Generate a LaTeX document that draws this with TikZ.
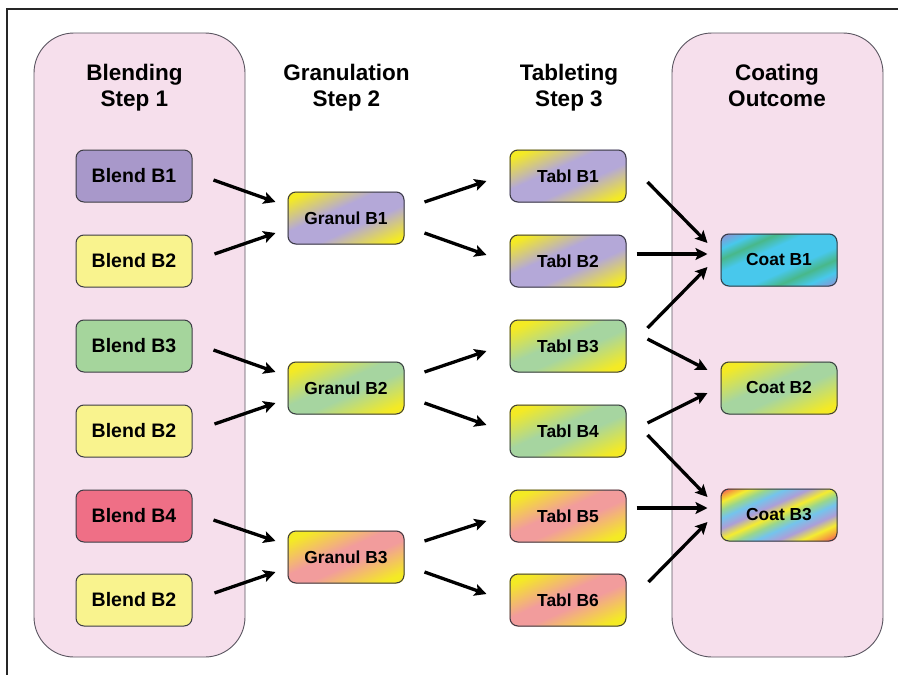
\documentclass[tikz,border=0pt]{standalone}
\usepackage{fontspec}
\setmainfont{Liberation Sans}
\usetikzlibrary{arrows.meta,calc}

% plain fills
\definecolor{panelpink}{HTML}{F6DFEC}
\definecolor{panelline}{HTML}{5A5560}
\definecolor{boxline}{HTML}{3C3C44}
\definecolor{blpurple}{HTML}{A898CA}
\definecolor{blyellow}{HTML}{F9F38E}
\definecolor{blgreen}{HTML}{A5D59C}
\definecolor{blred}{HTML}{EF6F86}
% gradient colours
\definecolor{gyel}{HTML}{F4EA24}
\definecolor{glav}{HTML}{B4A8D8}
\definecolor{ggrn}{HTML}{A6D5A0}
\definecolor{gsal}{HTML}{F29C9C}
\definecolor{cslate}{HTML}{8A94D4}
\definecolor{ccyan}{HTML}{48C8EC}
\definecolor{cgreen}{HTML}{48B88A}
\definecolor{rred}{HTML}{EA3F6E}
\definecolor{rora}{HTML}{F5A03E}
\definecolor{ryel}{HTML}{F5EC30}
\definecolor{rgrn}{HTML}{9AD68C}
\definecolor{rblu}{HTML}{74C4EC}
\definecolor{rlav}{HTML}{AC9FD8}

% blends along the box diagonal: 25bp is the upper left corner, 75bp the lower right one
\pgfdeclarehorizontalshading{yellav}{100bp}{color(0bp)=(gyel); color(29bp)=(gyel); color(44bp)=(glav); color(56bp)=(glav); color(71bp)=(gyel); color(100bp)=(gyel)}
\pgfdeclarehorizontalshading{yelgrn}{100bp}{color(0bp)=(gyel); color(30bp)=(gyel); color(46bp)=(ggrn); color(54bp)=(ggrn); color(70bp)=(gyel); color(100bp)=(gyel)}
\pgfdeclarehorizontalshading{yelsal}{100bp}{color(0bp)=(gyel); color(30bp)=(gyel); color(46bp)=(gsal); color(54bp)=(gsal); color(70bp)=(gyel); color(100bp)=(gyel)}
\pgfdeclarehorizontalshading{coatone}{100bp}{color(0bp)=(cslate); color(26bp)=(cslate); color(32bp)=(ccyan); color(37bp)=(cgreen); color(43bp)=(ccyan); color(56bp)=(ccyan); color(62bp)=(cgreen); color(68bp)=(ccyan); color(74bp)=(cslate); color(100bp)=(cslate)}
\pgfdeclarehorizontalshading{coatthree}{100bp}{color(0bp)=(rred); color(25bp)=(rred); color(28bp)=(rora); color(31bp)=(ryel); color(35bp)=(rgrn); color(39bp)=(rblu); color(44bp)=(rlav); color(49bp)=(ryel); color(53bp)=(rgrn); color(57bp)=(rblu); color(62bp)=(rlav); color(67bp)=(ryel); color(71bp)=(rora); color(75bp)=(rred); color(100bp)=(rred)}

\pgfdeclarelayer{panels}
\pgfdeclarelayer{fills}
\pgfsetlayers{panels,fills,main}

\tikzset{
  panel/.style={draw=panelline, line width=0.9pt, fill=panelpink, rounded corners=40pt},
  hdr/.style={anchor=base, inner sep=0pt, font=\fontsize{22.5}{25}\selectfont\bfseries},
  box/.style={draw=boxline, line width=1pt, rounded corners=8pt, minimum width=116pt, minimum height=52pt, inner sep=0pt},
  blendbox/.style={box, font=\fontsize{19.5}{22}\selectfont\bfseries},
  smallbox/.style={box, font=\fontsize{17.4}{20}\selectfont\bfseries},
  flow/.style={line width=3.3pt, -{Stealth[length=12pt, width=12pt, inset=2.5pt]}},
}

\begin{document}
\begin{tikzpicture}[x=1pt, y=-1pt]
\path[use as bounding box] (0,0) rectangle (898,675);

% frame lines
\draw[line width=1.6pt, color=black!85] (7,675) -- (7,9) -- (898,9);

% side panels
\begin{pgfonlayer}{panels}
\draw[panel] (34,33) rectangle (245,657);
\draw[panel] (672,33) rectangle (883,657);
\end{pgfonlayer}

% column headings
\node[hdr] (h1a) at (134.5,80) {Blending};
\node[hdr] (h1b) at (134.5,106) {Step 1};
\node[hdr] (h2a) at (346.5,80) {Granulation};
\node[hdr] (h2b) at (346.5,106) {Step 2};
\node[hdr] (h3a) at (569,80) {Tableting};
\node[hdr] (h3b) at (569,106) {Step 3};
\node[hdr] (h4a) at (777,80) {Coating};
\node[hdr] (h4b) at (777,106) {Outcome};

% blends
\node[blendbox, fill=blpurple] (bl1) at (134,176) {Blend B1};
\node[blendbox, fill=blyellow] (bl2) at (134,261) {Blend B2};
\node[blendbox, fill=blgreen]  (bl3) at (134,346) {Blend B3};
\node[blendbox, fill=blyellow] (bl4) at (134,431) {Blend B2};
\node[blendbox, fill=blred]    (bl5) at (134,516) {Blend B4};
\node[blendbox, fill=blyellow] (bl6) at (134,600) {Blend B2};

% granulations
\node[smallbox] (gr1) at (346,218) {Granul B1};
\node[smallbox] (gr2) at (346,388) {Granul B2};
\node[smallbox] (gr3) at (346,557) {Granul B3};

% tablets
\node[smallbox] (tb1) at (568,176) {Tabl B1};
\node[smallbox] (tb2) at (568,261) {Tabl B2};
\node[smallbox] (tb3) at (568,346) {Tabl B3};
\node[smallbox] (tb4) at (568,431) {Tabl B4};
\node[smallbox] (tb5) at (568,516) {Tabl B5};
\node[smallbox] (tb6) at (568,600) {Tabl B6};

% coatings
\node[smallbox] (ct1) at (779,260) {Coat B1};
\node[smallbox] (ct2) at (779,388) {Coat B2};
\node[smallbox] (ct3) at (779,515) {Coat B3};

% diagonal blends behind the boxes: the matrix sends the shading's x axis from
% the upper left corner to the lower right one and its y axis along the other
% diagonal (58 x 26 is half the box, 0.7071 = cos 45)
\begin{pgfonlayer}{fills}
\foreach \n/\s in {gr1/yellav, gr2/yelgrn, gr3/yelsal,
                   tb1/yellav, tb2/yellav, tb3/yelgrn, tb4/yelgrn, tb5/yelsal, tb6/yelsal,
                   ct1/coatone, ct2/yelgrn, ct3/coatthree}{
  \begin{scope}
    \clip[rounded corners=8pt] (\n.south west) rectangle (\n.north east);
    \begin{scope}[transform canvas={cm={41.012,-18.385,41.012,18.385,(\n.center)}}]
      \shade[shading=\s] (-1.4143,-1.4143) rectangle (1.4143,1.4143);
    \end{scope}
  \end{scope}
}
\end{pgfonlayer}

% blend -> granulation
\draw[flow] ($(bl1.east)+(21,4)$)  -- ($(gr1.west)+(-12,-16)$);
\draw[flow] ($(bl2.east)+(22,-7)$) -- ($(gr1.west)+(-12,15)$);
\draw[flow] ($(bl3.east)+(21,4)$)  -- ($(gr2.west)+(-12,-16)$);
\draw[flow] ($(bl4.east)+(22,-7)$) -- ($(gr2.west)+(-12,15)$);
\draw[flow] ($(bl5.east)+(21,4)$)  -- ($(gr3.west)+(-12,-16)$);
\draw[flow] ($(bl6.east)+(22,-7)$) -- ($(gr3.west)+(-12,15)$);

% granulation -> tablet
\draw[flow] ($(gr1.east)+(20,-16)$) -- ($(tb1.west)+(-23,5)$);
\draw[flow] ($(gr1.east)+(20,15)$)  -- ($(tb2.west)+(-23,-6)$);
\draw[flow] ($(gr2.east)+(20,-16)$) -- ($(tb3.west)+(-23,5)$);
\draw[flow] ($(gr2.east)+(20,15)$)  -- ($(tb4.west)+(-23,-6)$);
\draw[flow] ($(gr3.east)+(20,-16)$) -- ($(tb5.west)+(-23,5)$);
\draw[flow] ($(gr3.east)+(20,15)$)  -- ($(tb6.west)+(-23,-6)$);

% tablet -> coating
\draw[flow] ($(tb1.east)+(21,6)$)   -- ($(ct1.west)+(-13,-17)$);
\draw[flow] ($(tb2.east)+(10,-7)$)  -- ($(ct1.west)+(-13,-6)$);
\draw[flow] ($(tb3.east)+(21,-18)$) -- ($(ct1.west)+(-13,7)$);
\draw[flow] ($(tb3.east)+(21,-7)$)  -- ($(ct2.west)+(-13,-18)$);
\draw[flow] ($(tb4.east)+(21,-8)$)  -- ($(ct2.west)+(-13,5)$);
\draw[flow] ($(tb4.east)+(21,4)$)   -- ($(ct3.west)+(-13,-18)$);
\draw[flow] ($(tb5.east)+(10,-8)$)  -- ($(ct3.west)+(-13,-7)$);
\draw[flow] ($(tb6.east)+(22,-18)$) -- ($(ct3.west)+(-13,7)$);
\end{tikzpicture}
\end{document}
